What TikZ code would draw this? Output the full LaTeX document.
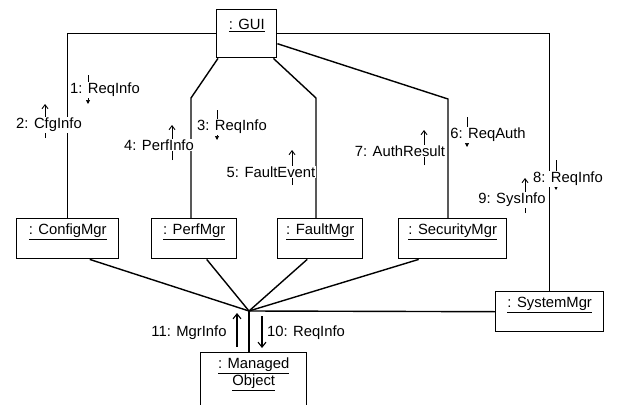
\documentclass[tikz,border=0pt]{standalone}
\usepackage{fontspec}
\setmainfont{Liberation Sans}
\usepackage{tikz}
\usetikzlibrary{calc, positioning, arrows.meta}
\pgfdeclarelayer{bg}
\pgfsetlayers{bg,main}

\begin{document}
\begin{tikzpicture}[x=1pt, y=-1pt,
		every node/.style={font=\fontsize{14.8}{17}\selectfont},
		obj/.style={draw, line width=1.4pt, anchor=north west, inner xsep=2pt, inner ysep=4pt, text height=12pt, text depth=20pt, align=center},
		link/.style={line width=1.4pt},
		msg/.style={fill=white, inner sep=1pt},
		up/.style={-{Straight Barb[length=4pt, width=6pt]}, line width=0.9pt},
		dn/.style={-{Triangle[length=4pt, width=4pt]}, line width=0.7pt},
		bigup/.style={-{Straight Barb[length=5pt, width=8pt]}, line width=1.1pt}]
		\useasboundingbox (0,0) rectangle (618,404);
		\clip (0,0) rectangle (618,404);

		% objects
		\node[obj, minimum width=60pt, text height=16pt, text depth=24pt] (gui) at (216,9) {\underline{: GUI}};
		\node[obj, minimum width=102pt] (cfg) at (16,218) {\underline{: ConfigMgr}};
		\node[obj, minimum width=85pt] (perf) at (151,218) {\underline{: PerfMgr}};
		\node[obj, minimum width=85pt] (fault) at (277,218) {\underline{: FaultMgr}};
		\node[obj, minimum width=108pt] (sec) at (398,218) {\underline{: SecurityMgr}};
		\node[obj, minimum width=108pt] (sys) at (495,291) {\underline{: SystemMgr}};
		\node[obj, minimum width=106pt, text depth=60pt] (mo) at (200,352)
			{\begin{tabular}[t]{@{}c@{}}\underline{: Managed}\\\underline{Object}\end{tabular}};

		\coordinate (pbend) at (191,98);
		\coordinate (fbend) at (316,98);
		\coordinate (sbend) at (448,99);
		\coordinate (hub) at (249,311);

		% messages
		\node[msg] (m1) at (105,90) {1: ReqInfo};
		\node[msg] (m2) at (49,125) {2: CfgInfo};
		\node[msg] (m3) at (232,127) {3: ReqInfo};
		\node[msg] (m4) at (159,145) {4: PerfInfo};
		\node[msg] (m5) at (271,172) {5: FaultEvent};
		\node[msg] (m6) at (488,135) {6: ReqAuth};
		\node[msg] (m7) at (400,151) {7: AuthResult};
		\node[msg] (m8) at (568,179) {8: ReqInfo};
		\node[msg] (m9) at (512,200) {9: SysInfo};
		\node (m11) at (189,333) {11: MgrInfo};
		\node (m10) at (306,333) {10: ReqInfo};

		\begin{pgfonlayer}{bg}
		% links
		\draw[link] (gui.west) -| (cfg.north);
		\draw[link] (gui.east) -| (sys.north);
		\draw[link] ([xshift=2pt]gui.south west) -- (pbend) -- (pbend |- perf.north);
		\draw[link] ([xshift=-4pt]gui.south east) -- (fbend) -- (fbend |- fault.north);
		\draw[link] ([yshift=-10pt]gui.east) -- (sbend) -- (sbend |- sec.north);

		\draw[link] ([xshift=22pt]cfg.south) -- (hub);
		\draw[link] ([xshift=12.5pt]perf.south) -- (hub);
		\draw[link] ([xshift=-13pt]fault.south) -- (hub);
		\draw[link] ([xshift=-34pt]sec.south) -- (hub);
		\draw[link] (sys.west) -- (hub);
		\draw[link] (hub) -- (hub |- mo.north);

		% message arrows, half hidden by their labels
		\draw[dn] ([shift={(-17,-15)}]m1.center) -- ([shift={(-17,14)}]m1.center);
		\draw[up] ([shift={(-4,13)}]m2.center) -- ([shift={(-4,-21)}]m2.center);
		\draw[dn] ([shift={(-15,-17)}]m3.center) -- ([shift={(-15,13)}]m3.center);
		\draw[up] ([shift={(13,15)}]m4.center) -- ([shift={(13,-20)}]m4.center);
		\draw[up] ([shift={(21,13)}]m5.center) -- ([shift={(21,-22)}]m5.center);
		\draw[dn] ([shift={(-21,-18)}]m6.center) -- ([shift={(-21,12)}]m6.center);
		\draw[up] ([shift={(24,14)}]m7.center) -- ([shift={(24,-21)}]m7.center);
		\draw[dn] ([shift={(-12,-19)}]m8.center) -- ([shift={(-12,11)}]m8.center);
		\draw[up] ([shift={(13,13)}]m9.center) -- ([shift={(13,-22)}]m9.center);
		\draw[bigup] ([shift={(48,14)}]m11.center) -- ([shift={(48,-20)}]m11.center);
		\draw[bigup] ([shift={(-44,-17)}]m10.center) -- ([shift={(-44,15)}]m10.center);
		\end{pgfonlayer}
	\end{tikzpicture}
\end{document}
